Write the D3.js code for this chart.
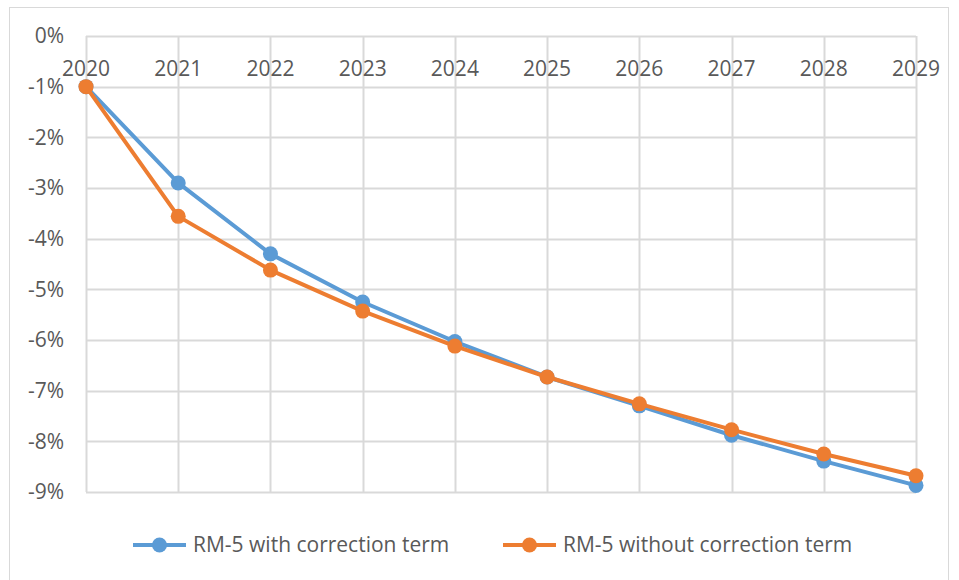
<!DOCTYPE html>
<html><head><meta charset="utf-8">
<script src="https://cdn.jsdelivr.net/npm/d3@7"></script>
<style>body{margin:0;background:#fff}svg{display:block}</style>
</head><body><svg id="c" width="959" height="580"></svg>
<script>
const years = [2020,2021,2022,2023,2024,2025,2026,2027,2028,2029];
const withCorrection = [-1.00,-2.90,-4.30,-5.25,-6.03,-6.73,-7.30,-7.88,-8.39,-8.87];
const withoutCorrection = [-1.00,-3.56,-4.62,-5.43,-6.12,-6.73,-7.26,-7.77,-8.25,-8.68];
const yTicks = [0,-1,-2,-3,-4,-5,-6,-7,-8,-9];
const seriesNames = ["RM-5 with correction term","RM-5 without correction term"];
const colors = ["#5B9BD5","#ED7D31"];

const svg = d3.select("#c");
const font = "'Open Sans', sans-serif";
const fs = 21;
svg.append("rect").attr("x",9.5).attr("y",7.5).attr("width",939).attr("height",580)
  .attr("fill","#fff").attr("stroke","#d9d9d9");

const x = d3.scaleLinear().domain([2020,2029]).range([86,916]);
const y = d3.scaleLinear().domain([0,-9]).range([36,492]);

const g = svg.append("g");
g.selectAll(".hg").data(yTicks).join("line")
  .attr("x1",x(2020)).attr("x2",x(2029))
  .attr("y1",d=>Math.round(y(d))+0.5).attr("y2",d=>Math.round(y(d))+0.5)
  .attr("stroke","#d9d9d9").attr("stroke-width",2);
g.selectAll(".vg").data(years).join("line")
  .attr("x1",d=>Math.round(x(d))+0.5).attr("x2",d=>Math.round(x(d))+0.5)
  .attr("y1",y(0)).attr("y2",y(-9))
  .attr("stroke","#d9d9d9").attr("stroke-width",2);

g.selectAll(".yl").data(yTicks).join("text")
  .attr("x",64).attr("y",d=>y(d)).attr("dy","0.35em")
  .attr("text-anchor","end").attr("font-family",font).attr("font-size",fs)
  .attr("fill","#595959").text(d=>d+"%");
g.selectAll(".xl").data(years).join("text")
  .attr("x",d=>x(d)).attr("y",76)
  .attr("text-anchor","middle").attr("font-family",font).attr("font-size",fs)
  .attr("fill","#595959").text(d=>d);

const series = [withCorrection, withoutCorrection];
const line = d3.line().x((d,i)=>x(years[i])).y(d=>y(d));
series.forEach((s,k)=>{
  g.append("path").datum(s).attr("d",line).attr("fill","none")
    .attr("stroke",colors[k]).attr("stroke-width",4).attr("stroke-linejoin","round");
  g.selectAll(".m"+k).data(s).join("circle")
    .attr("cx",(d,i)=>x(years[i])).attr("cy",d=>y(d)).attr("r",7.5)
    .attr("fill",colors[k]);
});

const legX = [133, 503];
seriesNames.forEach((n,k)=>{
  const lg = svg.append("g");
  lg.append("line").attr("x1",legX[k]).attr("x2",legX[k]+53).attr("y1",545).attr("y2",545)
    .attr("stroke",colors[k]).attr("stroke-width",4);
  lg.append("circle").attr("cx",legX[k]+26.5).attr("cy",545).attr("r",7.5).attr("fill",colors[k]);
  lg.append("text").attr("x",legX[k]+60).attr("y",545).attr("dy","0.35em")
    .attr("font-family",font).attr("font-size",fs).attr("fill","#595959").text(n);
});
</script></body></html>
